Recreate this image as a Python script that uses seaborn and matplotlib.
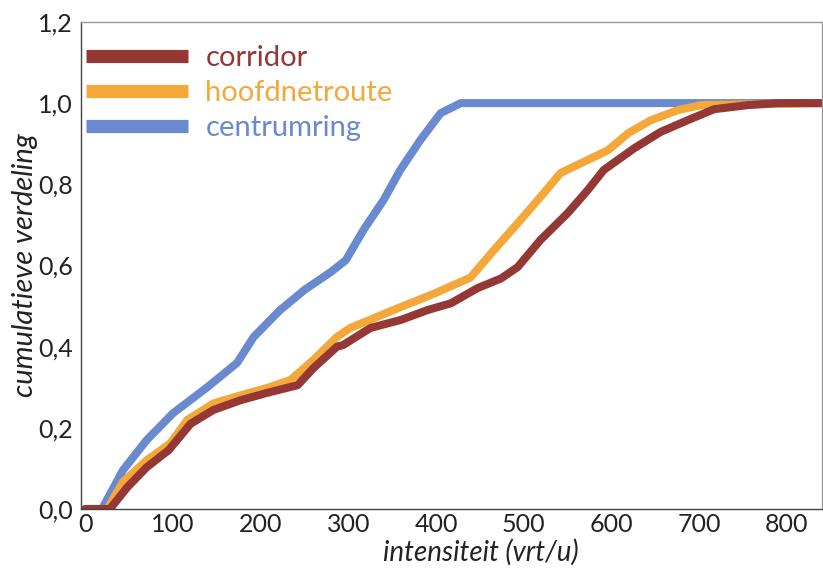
import numpy as np
import pandas as pd
import matplotlib
matplotlib.use("Agg")
import matplotlib.pyplot as plt
import seaborn as sns
from matplotlib.lines import Line2D

# --- data ---
series_names = ["corridor", "hoofdnetroute", "centrumring"]

corridor_x = [0, 28, 48, 70, 95, 120, 146, 177, 207, 242, 260, 287, 294, 325, 360, 390, 417, 447, 474,
              493, 519, 550, 573, 591, 626, 656, 687, 717, 755, 790, 840]
corridor_y = [0, 0, 0.054, 0.103, 0.145, 0.21, 0.244, 0.268, 0.286, 0.305, 0.347, 0.40, 0.404, 0.446,
              0.466, 0.49, 0.507, 0.544, 0.568, 0.596, 0.663, 0.729, 0.786, 0.835, 0.889, 0.929, 0.958,
              0.985, 0.995, 1.0, 1.0]

hoofd_x = [0, 25, 43, 70, 97, 116, 146, 177, 207, 234, 260, 287, 302, 360, 397, 439, 466, 493, 519,
           542, 573, 596, 619, 645, 676, 702, 840]
hoofd_y = [0, 0, 0.067, 0.12, 0.162, 0.219, 0.26, 0.28, 0.298, 0.318, 0.367, 0.424, 0.446, 0.498,
           0.53, 0.57, 0.638, 0.704, 0.769, 0.828, 0.86, 0.884, 0.926, 0.958, 0.983, 0.995, 1.0]

centrum_x = [0, 19, 43, 70, 100, 139, 173, 192, 222, 250, 280, 297, 317, 340, 359, 382, 405, 428, 840]
centrum_y = [0, 0, 0.096, 0.17, 0.236, 0.30, 0.36, 0.424, 0.49, 0.54, 0.584, 0.613, 0.687, 0.761,
             0.835, 0.909, 0.975, 1.0, 1.0]

x_ticks = [0, 100, 200, 300, 400, 500, 600, 700, 800]
y_ticks = [0.0, 0.2, 0.4, 0.6, 0.8, 1.0, 1.2]
y_tick_labels = ["0,0", "0,2", "0,4", "0,6", "0,8", "1,0", "1,2"]

colors = {"corridor": "#953735", "hoofdnetroute": "#F5A83A", "centrumring": "#6A8ACF"}

frames = []
for name, xs, ys in [("corridor", corridor_x, corridor_y),
                     ("hoofdnetroute", hoofd_x, hoofd_y),
                     ("centrumring", centrum_x, centrum_y)]:
    frames.append(pd.DataFrame({"x": xs, "y": ys, "serie": name}))
df = pd.concat(frames, ignore_index=True)

sns.set_theme(style="white")
plt.rcParams['font.family'] = ['Lato', 'DejaVu Sans']

fig = plt.figure(figsize=(8.23, 5.71), dpi=100)
ax = fig.add_axes([0.0984, 0.1086, 0.9004, 0.853])

# draw in z-order: blue, orange, red on top
for name in ["centrumring", "hoofdnetroute", "corridor"]:
    sns.lineplot(data=df[df["serie"] == name], x="x", y="y", color=colors[name],
                 linewidth=5.8, ax=ax, legend=False, sort=False, estimator=None)

ax.set_xlim(-5, 840)
ax.set_ylim(0, 1.2)
ax.set_xticks(x_ticks)
ax.set_xticklabels([str(v) for v in x_ticks])
ax.set_yticks(y_ticks)
ax.set_yticklabels(y_tick_labels)
ax.tick_params(axis="both", labelsize=18, colors="#222222", length=0)
ax.tick_params(axis="x", pad=3)
ax.tick_params(axis="y", pad=6)

ax.set_xlabel("intensiteit (vrt/u)", fontsize=20, style="italic", color="#222222")
ax.xaxis.set_label_coords(0.54, -0.062)
ax.xaxis.label.set_verticalalignment("top")
ax.set_ylabel("cumulatieve verdeling", fontsize=21, style="italic", color="#222222", labelpad=0)

for side in ["left", "bottom"]:
    ax.spines[side].set_color("#444444")
    ax.spines[side].set_linewidth(1.0)
for side in ["top", "right"]:
    ax.spines[side].set_color("#999999")
    ax.spines[side].set_linewidth(1.0)

handles = [Line2D([0], [0], color=colors[n], lw=9.5, solid_capstyle="butt") for n in series_names]
leg = ax.legend(handles, series_names, loc="upper left", bbox_to_anchor=(-0.017, 0.988),
                frameon=False, fontsize=21, handlelength=3.5, handletextpad=0.6,
                labelspacing=0.3, borderaxespad=0.2)
for text, n in zip(leg.get_texts(), series_names):
    text.set_color(colors[n])

fig.savefig("out.png", dpi=100)
